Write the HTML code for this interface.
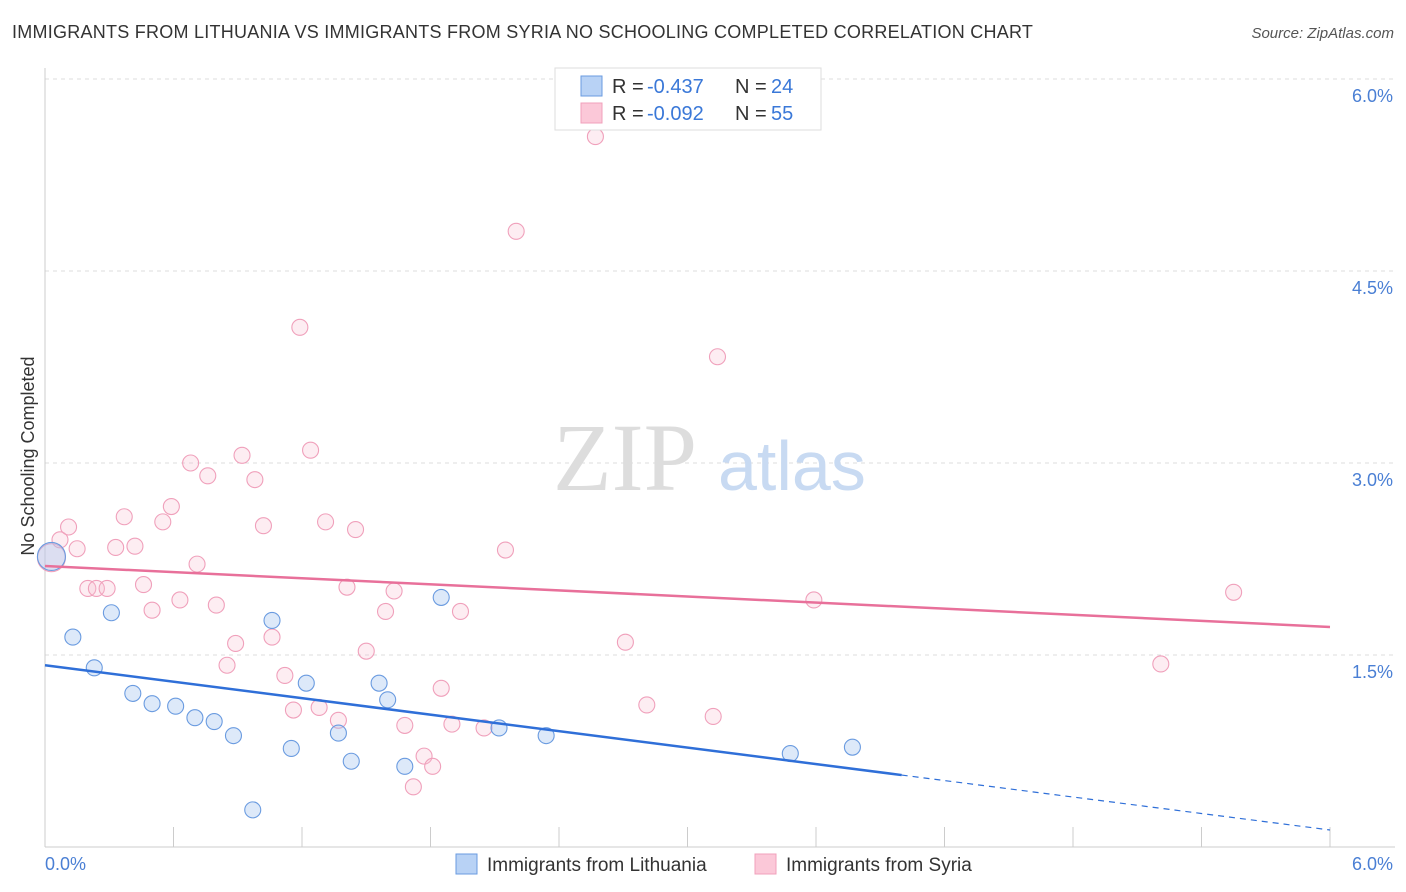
<!DOCTYPE html>
<html><head><meta charset="utf-8"><style>
body{margin:0;background:#fff;font-family:"Liberation Sans",sans-serif;}
#wrap{position:relative;width:1406px;height:892px;}
.t{position:absolute;white-space:nowrap;}
</style></head><body>
<div id="wrap">
<div class="t" style="left:12px;top:22px;font-size:18px;color:#333;letter-spacing:0.25px;">IMMIGRANTS FROM LITHUANIA VS IMMIGRANTS FROM SYRIA NO SCHOOLING COMPLETED CORRELATION CHART</div>
<div class="t" style="right:12px;top:25px;font-size:15px;color:#555;font-style:italic;">Source: ZipAtlas.com</div>
<svg id="svg" width="1406" height="892" style="position:absolute;left:0;top:0"></svg>
</div>
<script>
const blueX=[0.03,0.13,0.23,0.31,0.41,0.50,0.61,0.70,0.79,0.88,0.97,1.06,1.15,1.22,1.37,1.43,1.56,1.60,1.68,1.85,2.12,2.34,3.48,3.77];
const blueY=[2.27,1.64,1.40,1.83,1.20,1.12,1.10,1.01,0.98,0.87,0.29,1.77,0.77,1.28,0.89,0.67,1.28,1.15,0.63,1.95,0.93,0.87,0.73,0.78];
const pinkX=[0.03,0.07,0.11,0.15,0.20,0.24,0.29,0.33,0.37,0.42,0.46,0.50,0.55,0.59,0.63,0.68,0.71,0.76,0.80,0.85,0.89,0.92,0.98,1.02,1.06,1.12,1.16,1.19,1.24,1.28,1.31,1.37,1.41,1.45,1.50,1.59,1.63,1.68,1.77,1.81,1.72,1.85,1.90,1.94,2.05,2.15,2.20,2.57,2.71,2.81,3.12,3.14,3.59,5.21,5.55];
const pinkY=[2.26,2.40,2.50,2.33,2.02,2.02,2.02,2.34,2.58,2.35,2.05,1.85,2.54,2.66,1.93,3.00,2.21,2.90,1.89,1.42,1.59,3.06,2.87,2.51,1.64,1.34,1.07,4.06,3.10,1.09,2.54,0.99,2.03,2.48,1.53,1.84,2.00,0.95,0.71,0.63,0.47,1.24,0.96,1.84,0.93,2.32,4.81,5.55,1.60,1.11,1.02,3.83,1.93,1.43,1.99];
const svg=document.getElementById('svg');const NS='http://www.w3.org/2000/svg';
const X=v=>45+v/6*1285, Y=v=>847-v*128;
function el(t,a,name){const e=document.createElementNS(NS,t);for(const k in a)e.setAttribute(k,a[k]);


svg.appendChild(e);return e;}
[1.5,3,4.5,6].forEach(v=>{el('line',{x1:45,x2:1395,y1:Y(v),y2:Y(v),stroke:'#ddd','stroke-dasharray':'4,4'},'gridline');
const t=el('text',{x:1393,y:Y(v)+23,'text-anchor':'end','font-size':18,fill:'#4a7fd4'},'y-tick-label');t.textContent=v.toFixed(1)+'%';});
el('line',{x1:45,x2:45,y1:68,y2:847,stroke:'#ccc'},'y-axis');
el('line',{x1:45,x2:1395,y1:847,y2:847,stroke:'#ccc'},'x-axis');
for(let i=0;i<=10;i++)el('line',{x1:X(i*0.6),x2:X(i*0.6),y1:827,y2:847,stroke:'#ccc'},'x-tick');
[['0.0%',45,'start'],['6.0%',1393,'end']].forEach(a=>{const t=el('text',{x:a[1],y:870,'text-anchor':a[2],'font-size':18,fill:'#4a7fd4'},'x-tick-label');t.textContent=a[0];});
const yt=el('text',{x:34,y:456,'text-anchor':'middle','font-size':18,fill:'#333',transform:'rotate(-90 34 456)'},'y-axis-title');yt.textContent='No Schooling Completed';
const w1=el('text',{x:553,y:490,'font-size':96,fill:'#ddd','font-family':'Liberation Serif'},'watermark-zip');w1.textContent='ZIP';
const w2=el('text',{x:718,y:490,'font-size':70,fill:'#c8daf2'},'watermark-atlas');w2.textContent='atlas';
pinkX.forEach((x,i)=>el('circle',{cx:X(x),cy:Y(pinkY[i]),r:i==0?14:8,fill:'rgba(248,190,208,0.28)',stroke:'#f0a0bb','stroke-width':1.1},'syria-point'));
blueX.forEach((x,i)=>el('circle',{cx:X(x),cy:Y(blueY[i]),r:i==0?14:8,fill:'rgba(170,200,240,0.4)',stroke:'#6a9be0','stroke-width':1.1},'lithuania-point'));
const bl=v=>1.42-v*(1.42-0.133)/6, pl=v=>2.195-v*(2.195-1.719)/6;
el('line',{x1:X(0),y1:Y(bl(0)),x2:X(4),y2:Y(bl(4)),stroke:'#2f6fd8','stroke-width':2.5},'lithuania-trendline');
el('line',{x1:X(4),y1:Y(bl(4)),x2:X(6),y2:Y(bl(6)),stroke:'#2f6fd8','stroke-width':1.2,'stroke-dasharray':'6,5'},'lithuania-trendline-extension');
el('line',{x1:X(0),y1:Y(pl(0)),x2:X(6),y2:Y(pl(6)),stroke:'#e8709a','stroke-width':2.5},'syria-trendline');
el('rect',{x:555,y:68,width:266,height:62,fill:'#fff',stroke:'#ddd'},'legend-box');
[['#b8d2f5','#6a9be0','-0.437','24',86],['#fbc8d8','#f0a0bb','-0.092','55',113]].forEach(r=>{
el('rect',{x:581,y:r[4]-10,width:21,height:20,fill:r[0],stroke:r[1]},'legend-swatch');
const a=el('text',{x:612,y:r[4]+7,'font-size':20,fill:'#333'},'legend-r-label');a.textContent='R =';
const b=el('text',{x:647,y:r[4]+7,'font-size':20,fill:'#3a78d8'},'legend-r-value');b.textContent=r[2];
const c=el('text',{x:735,y:r[4]+7,'font-size':20,fill:'#333'},'legend-n-label');c.textContent='N =';
const d=el('text',{x:771,y:r[4]+7,'font-size':20,fill:'#3a78d8'},'legend-n-value');d.textContent=r[3];});
[['#b8d2f5','#6a9be0','Immigrants from Lithuania',456],['#fbc8d8','#f0a0bb','Immigrants from Syria',755]].forEach(r=>{
el('rect',{x:r[3],y:854,width:21,height:20,fill:r[0],stroke:r[1]},'legend-swatch');
const t=el('text',{x:r[3]+31,y:871,'font-size':19,fill:'#333'},'legend-label');t.textContent=r[2];});
</script></body></html>
